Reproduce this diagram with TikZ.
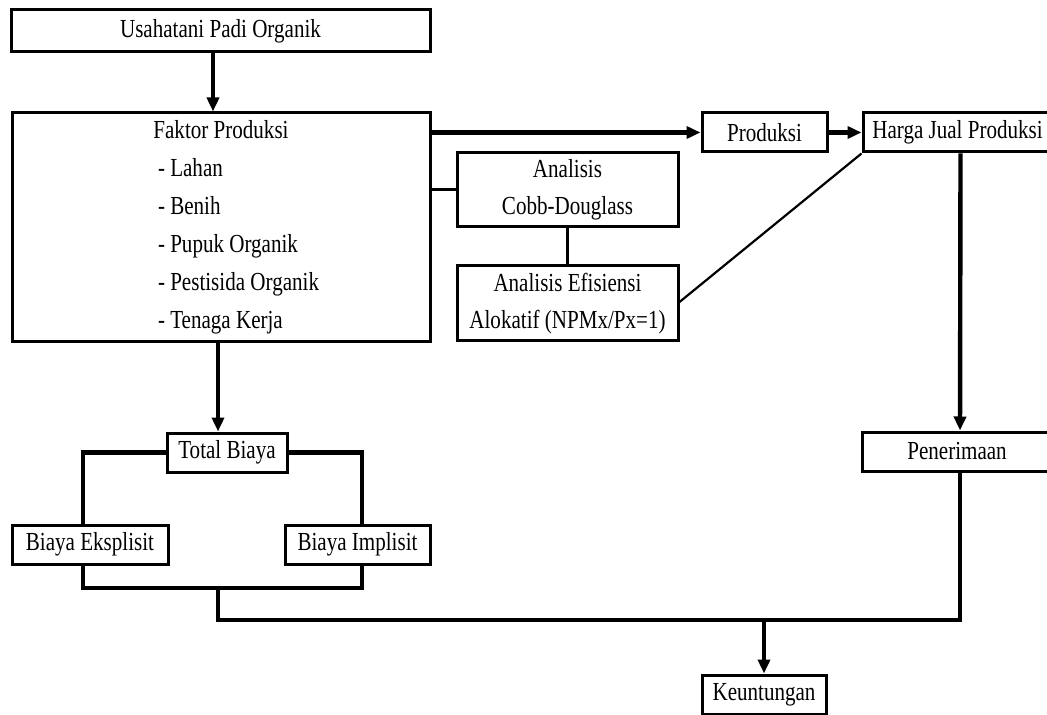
\documentclass[tikz,border=0pt]{standalone}
\usepackage{fontspec}
\setmainfont[FakeStretch=0.81]{Liberation Serif}
\usetikzlibrary{arrows.meta}
\tikzset{
  frame-box/.style={
    draw=black,
    line width=1.5pt,
    inner sep=0pt,
    align=center,
    font=\fontsize{13}{18.5}\selectfont
  },
  frame-list/.style={
    frame-box,
    font=\fontsize{13}{19}\selectfont
  },
  flow/.style={line width=2.2pt},
  flow-arrow/.style={flow, -{Triangle[length=7pt,width=6pt]}},
  link/.style={line width=1.5pt},
  link-thin/.style={line width=1.1pt}
}
\newcommand{\listitem}[1]{\makebox[63pt][l]{- #1}}

\begin{document}
\begin{tikzpicture}[x=0.5pt,y=-0.5pt]
  \useasboundingbox (0,0) rectangle (1047,715);

  % left column
  \node[frame-box, minimum width=209.5pt, minimum height=21pt] (usaha) at (220.5,31) {Usahatani Padi Organik};
  \node[frame-list, minimum width=209pt, minimum height=114.5pt] (faktor) at (221,227.5) {%
    Faktor Produksi\\
    \listitem{Lahan}\\
    \listitem{Benih}\\
    \listitem{Pupuk Organik}\\
    \listitem{Pestisida Organik}\\
    \listitem{Tenaga Kerja}};
  \node[frame-box, minimum width=60pt, minimum height=19.5pt] (total) at (227,452.5) {Total Biaya};
  \node[frame-box, minimum width=78pt, minimum height=19.5pt] (eksplisit) at (90,544.5) {Biaya Eksplisit};
  \node[frame-box, minimum width=72.5pt, minimum height=19.5pt] (implisit) at (357.5,544.5) {Biaya Implisit};

  % analysis and output side
  \node[frame-box, minimum width=110.5pt, minimum height=37pt] (cobb) at (567.5,190) {Analisis\\Cobb-Douglass};
  \node[frame-box, minimum width=110.5pt, minimum height=37.5pt] (efisiensi) at (567.5,303.5) {Analisis Efisiensi\\Alokatif (NPMx/Px=1)};
  \node[frame-box, minimum width=62.5pt, minimum height=19.5pt] (produksi) at (764.5,132.5) {Produksi};
  \node[frame-box, minimum width=94.5pt, minimum height=19.5pt] (harga) at (957.5,132.5) {Harga Jual Produksi};
  \node[frame-box, minimum width=95pt, minimum height=19.5pt] (penerimaan) at (957,451.5) {Penerimaan};
  \node[frame-box, minimum width=62pt, minimum height=19.5pt] (keuntungan) at (764,694.5) {Keuntungan};

  \coordinate (biayabar) at (218,588);
  \coordinate (labarugi) at (764,620);

  \draw[flow-arrow] ([xshift=-3.75pt]usaha.south) -- ([xshift=-3.75pt]usaha.south |- faktor.north);
  \draw[flow-arrow] (faktor.east |- produksi.west) -- (produksi.west);
  \draw[flow-arrow] (produksi.east) -- (harga.west);
  \draw[link] (faktor.east |- cobb.west) -- (cobb.west);
  \draw[link-thin] (cobb.south) -- (efisiensi.north);
  \draw[link-thin] ([yshift=0.75pt]efisiensi.east) -- (harga.south west);
  \draw[flow-arrow] ([xshift=-4.5pt]total.north |- faktor.south) -- ([xshift=-4.5pt]total.north);

  % cost branches
  \draw[flow] (total.west) -| ([xshift=-3.5pt]eksplisit.north);
  \draw[flow] (total.east) -| ([xshift=2.25pt]implisit.north);
  \draw[flow] ([xshift=-3.5pt]eksplisit.south) |- (biayabar) -| ([xshift=2.25pt]implisit.south);

  % revenue minus cost
  \draw[flow-arrow] ([xshift=1.5pt]harga.south) -- ([xshift=1.5pt]penerimaan.north);
  \draw[flow] (biayabar) |- (labarugi) -| ([xshift=1.5pt]penerimaan.south);
  \draw[flow-arrow] (labarugi) -- (keuntungan.north);
\end{tikzpicture}
\end{document}
